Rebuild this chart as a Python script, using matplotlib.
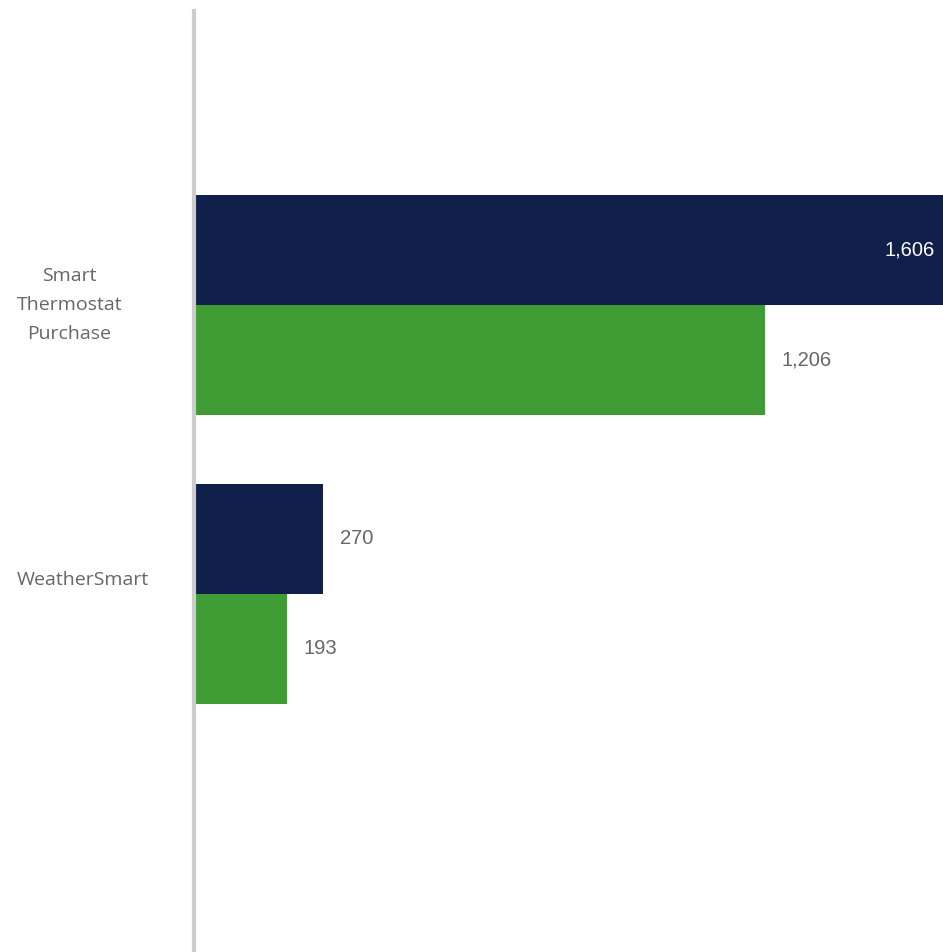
import numpy as np
import matplotlib.pyplot as plt

# categories and the two series per category
categories = ["Smart\nThermostat\nPurchase", "WeatherSmart"]
series_top = [1606, 270]
series_bottom = [1206, 193]

NAVY = "#10204b"
GREEN = "#3f9c35"
LABEL_GRAY = "#666666"

W, H = 943, 952
fig = plt.figure(figsize=(W / 100, H / 100), dpi=100)
# axes spans from the axis line to the right edge
ax = fig.add_axes([194 / W, 0, 1 - 194 / W, (H - 11) / H])

y = np.arange(len(categories))
bar_h = 110 / 289

ax.barh(y - bar_h / 2, series_top, height=bar_h, color=NAVY, left=0)
ax.barh(y + bar_h / 2, series_bottom, height=bar_h, color=GREEN, left=0)

x_max = 1583
ax.set_xlim(-4, x_max)
ax.set_ylim(1 + (952 - 594) / 289, -(305 - 11) / 289)

# value labels
for i, v in enumerate(series_top):
    txt = f"{v:,}"
    if v > x_max:
        ax.annotate(txt, (x_max, y[i] - bar_h / 2), xytext=(-6, 0), textcoords="offset points",
                    ha="right", va="center", color="white", fontsize=14.5, family="Liberation Sans")
    else:
        ax.annotate(txt, (v, y[i] - bar_h / 2), xytext=(12, 0), textcoords="offset points",
                    ha="left", va="center", color=LABEL_GRAY, fontsize=14.5, family="Liberation Sans")
for i, v in enumerate(series_bottom):
    ax.annotate(f"{v:,}", (v, y[i] + bar_h / 2), xytext=(12, 0), textcoords="offset points",
                ha="left", va="center", color=LABEL_GRAY, fontsize=14.5, family="Liberation Sans")

# category labels, left-aligned block with centred lines
for i, cat in enumerate(categories):
    dy = 0 if "\n" in cat else 10
    ax.annotate(cat, (0, y[i]), xycoords=("figure fraction", "data"), xytext=(12, dy),
                textcoords="offset points", ha="left", va="center", multialignment="center",
                color=LABEL_GRAY, fontsize=14, family="Open Sans", linespacing=1.78)

for s in ["top", "right", "bottom"]:
    ax.spines[s].set_visible(False)
ax.spines["left"].set_color("#cccccc")
ax.spines["left"].set_linewidth(3)
ax.set_xticks([])
ax.set_yticks([])

fig.savefig("out.png", dpi=100)
